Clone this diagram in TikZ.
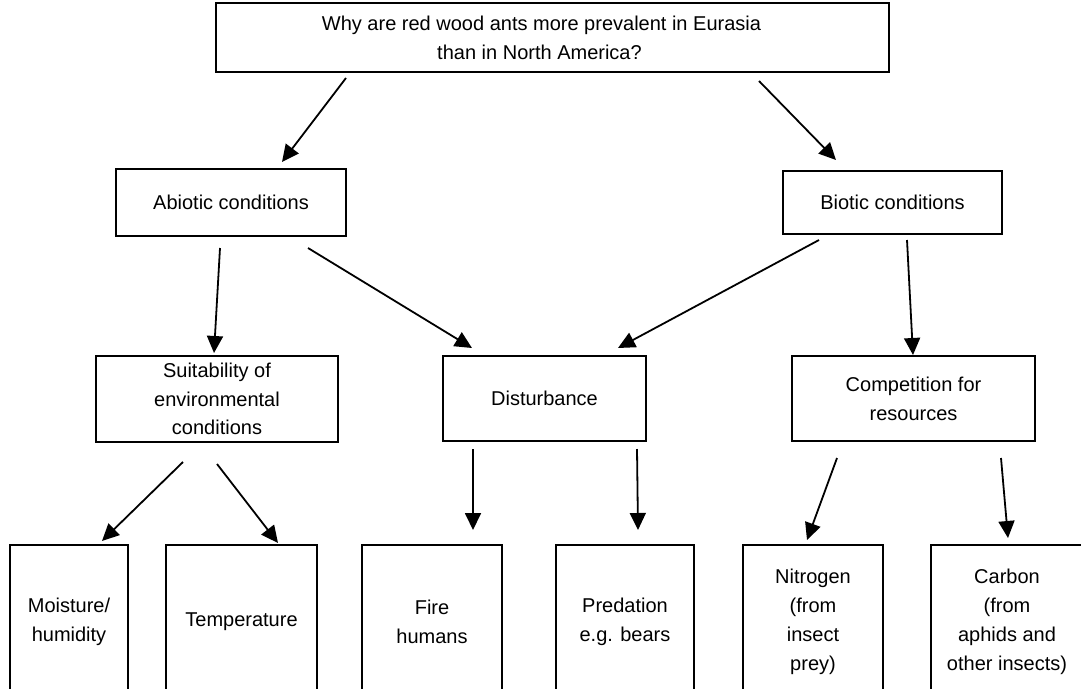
\documentclass[tikz,border=0pt]{standalone}
\usepackage{fontspec}
\setmainfont{Liberation Sans}
\usetikzlibrary{arrows.meta}
\tikzset{
  box/.style={draw=black, line width=2.6pt, rectangle, inner sep=0pt, align=center,
    font=\fontsize{20}{28.8}\selectfont},
  arr/.style={line width=1.8pt, -{Triangle[length=17pt,width=16pt]}}
}
\begin{document}
\begin{tikzpicture}[x=1pt,y=-1pt]
\useasboundingbox (0,0) rectangle (1081,688);
\clip (0,0) rectangle (1081,688);
% boxes
\node[box, minimum width=673pt, minimum height=69pt] (top) at (552.5,37.5)
  {Why are red wood ants more prevalent in Eurasia\hspace*{22pt}\\than in North America?\hspace*{26pt}};
\node[box, minimum width=230pt, minimum height=67pt] (abio) at (231,202.5) {Abiotic conditions};
\node[box, minimum width=219pt, minimum height=63pt] (bio) at (892.5,202.5) {Biotic conditions};
\node[box, minimum width=242pt, minimum height=86pt] (suit) at (217,399)
  {Suitability of\\environmental\\conditions};
\node[box, minimum width=203pt, minimum height=85pt] (dist) at (544.5,398.5) {Disturbance};
\node[box, minimum width=243pt, minimum height=85pt] (comp) at (913.5,398.5) {Competition for\\resources};
\node[box, minimum width=118pt, minimum height=154pt] (moist) at (69,622) {Moisture/\\humidity};
\node[box, minimum width=151pt, minimum height=154pt] (temp) at (241.5,622) {Temperature};
\node[box, minimum width=140pt, minimum height=154pt] (fire) at (432,622) {Fire\\humans};
\node[box, minimum width=138pt, minimum height=154pt] (pred) at (625,622) {Predation\\e.g. bears};
\node[box, minimum width=140pt, minimum height=154pt] (nitro) at (813,622) {Nitrogen\\(from\\insect\\prey)};
\node[box, minimum width=152pt, minimum height=154pt] (carb) at (1007,622) {Carbon\\(from\\aphids and\\other insects)};
% connector end points
\coordinate (t1) at (346,78);   \coordinate (h1) at (282,162);
\coordinate (t2) at (759,81);   \coordinate (h2) at (836,160);
\coordinate (t3) at (220,248);  \coordinate (h3) at (214,353);
\coordinate (t4) at (308,248);  \coordinate (h4) at (472,348);
\coordinate (t5) at (819,240);  \coordinate (h5) at (618,348);
\coordinate (t6) at (907,240);  \coordinate (h6) at (913,355);
\coordinate (t7) at (183,462);  \coordinate (h7) at (102,541);
\coordinate (t8) at (217,464);  \coordinate (h8) at (278,543);
\coordinate (t9) at (473,449);  \coordinate (h9) at (473,530);
\coordinate (t10) at (637,449); \coordinate (h10) at (638,530);
\coordinate (t11) at (837,458); \coordinate (h11) at (807,540);
\coordinate (t12) at (1001,458);\coordinate (h12) at (1008,538);
\foreach \i in {1,...,12} { \draw[arr] (t\i) -- (h\i); }
\end{tikzpicture}
\end{document}
